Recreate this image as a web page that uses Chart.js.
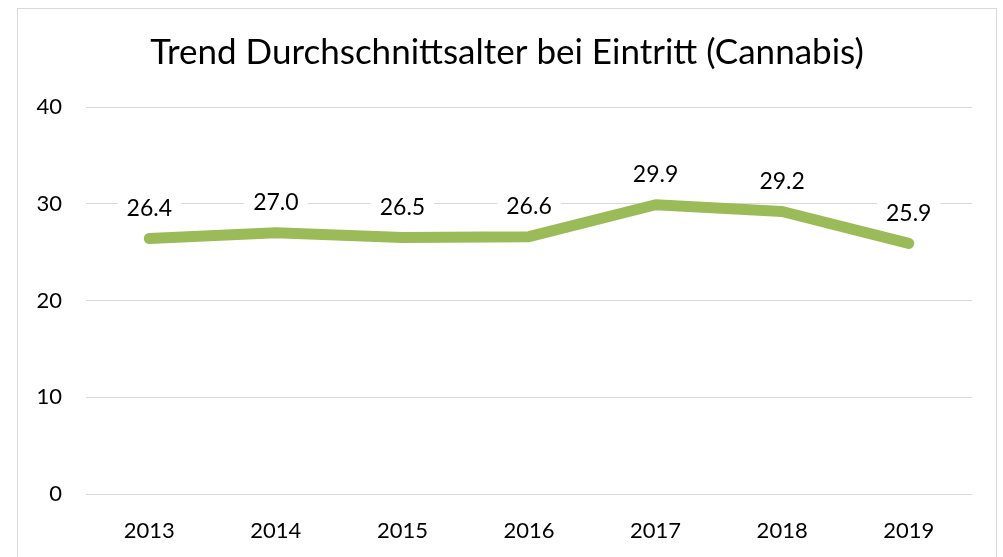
<!DOCTYPE html>
<html>
<head>
<meta charset="utf-8">
<script src="https://cdn.jsdelivr.net/npm/chart.js@4"></script>
<style>
    html, body { margin: 0; padding: 0; background: #ffffff; overflow: hidden; }
    #wrap { position: relative; width: 1003px; height: 557px; }
    #frame {
        position: absolute; left: 17px; top: 8px; width: 980px; height: 560px;
        border: 1px solid #d9d9d9; box-sizing: border-box; pointer-events: none;
    }
    canvas { position: absolute; left: 17px; top: 0; }
</style>
</head>
<body>
<div id="wrap">
    <canvas id="trendChart" width="980" height="557"></canvas>
    <div id="frame"></div>
</div>
<script>
// Chart data
const years = ["2013", "2014", "2015", "2016", "2017", "2018", "2019"];
const avgAge = [26.4, 27.0, 26.5, 26.6, 29.9, 29.2, 25.9];
const yTicks = [0, 10, 20, 30, 40];

const fontFamily = "Lato, 'Open Sans', sans-serif";
const textColor = "#000000";

// Value labels with white background above each point
const valueLabels = {
    id: "valueLabels",
    afterDatasetsDraw(chart) {
        const ctx = chart.ctx;
        const meta = chart.getDatasetMeta(0);
        ctx.save();
        ctx.font = "23px " + fontFamily;
        ctx.textAlign = "center";
        ctx.textBaseline = "middle";
        meta.data.forEach((pt, i) => {
            const text = avgAge[i].toFixed(1);
            const w = ctx.measureText(text).width;
            const x = pt.x;
            const y = pt.y - 30;
            ctx.fillStyle = "#ffffff";
            ctx.fillRect(x - w / 2 - 9, y - 14, w + 18, 28);
            ctx.fillStyle = textColor;
            ctx.fillText(text, x, y);
        });
        ctx.restore();
    }
};

const ctx = document.getElementById("trendChart").getContext("2d");

new Chart(ctx, {
    type: "line",
    data: {
        labels: years,
        datasets: [{
            data: avgAge,
            borderColor: "#9bbb59",
            borderWidth: 11,
            borderJoinStyle: "round",
            borderCapStyle: "round",
            pointRadius: 0,
            tension: 0
        }]
    },
    options: {
        responsive: false,
        animation: false,
        layout: {
            padding: 0
        },
        plugins: {
            legend: { display: false },
            tooltip: { enabled: false },
            title: {
                display: true,
                text: "Trend Durchschnittsalter bei Eintritt (Cannabis)",
                color: textColor,
                font: { family: fontFamily, size: 35, weight: "normal", lineHeight: 1.2 },
                padding: { top: 32, bottom: 33 }
            }
        },
        scales: {
            x: {
                offset: true,
                grid: { display: false },
                border: { display: false },
                ticks: {
                    color: textColor,
                    font: { family: fontFamily, size: 22 },
                    padding: 16
                },
                afterFit(scale) { scale.height = 63; }
            },
            y: {
                min: 0,
                max: 40,
                afterBuildTicks(scale) {
                    scale.ticks = yTicks.map(v => ({ value: v }));
                },
                grid: { color: "#d9d9d9", lineWidth: 1, drawTicks: false },
                border: { display: false },
                ticks: {
                    color: textColor,
                    font: { family: fontFamily, size: 22 },
                    padding: 24
                },
                afterFit(scale) { scale.width = 69; }
            },
            // empty right-hand spacer so the title stays centred in the frame
            yRight: {
                position: "right",
                grid: { display: false },
                border: { display: false },
                ticks: { display: false },
                afterFit(scale) { scale.width = 25; }
            }
        }
    },
    plugins: [valueLabels]
});
</script>
</body>
</html>
